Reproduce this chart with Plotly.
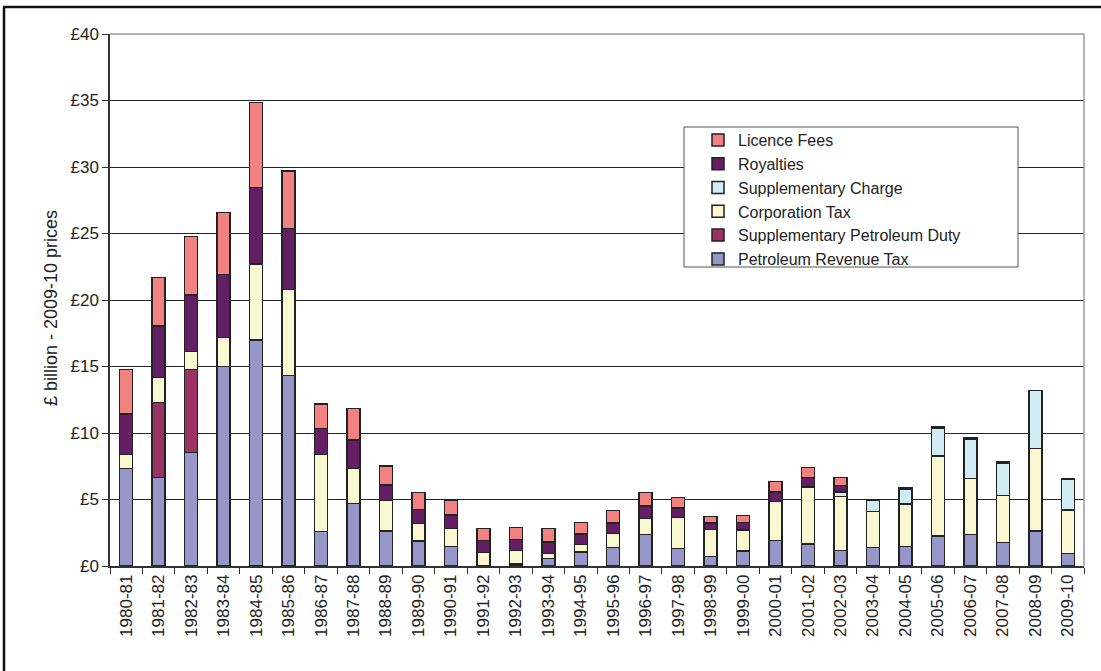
import plotly.graph_objects as go

years = ["1980-81", "1981-82", "1982-83", "1983-84", "1984-85", "1985-86", "1986-87",
         "1987-88", "1988-89", "1989-90", "1990-91", "1991-92", "1992-93", "1993-94",
         "1994-95", "1995-96", "1996-97", "1997-98", "1998-99", "1999-00", "2000-01",
         "2001-02", "2002-03", "2003-04", "2004-05", "2005-06", "2006-07", "2007-08",
         "2008-09", "2009-10"]

petroleum_revenue_tax = [7.34, 6.67, 8.52, 14.99, 16.99, 14.31, 2.58, 4.71, 2.63, 1.88,
                         1.45, 0.02, 0.15, 0.55, 1.05, 1.41, 2.38, 1.30, 0.70, 1.13,
                         1.90, 1.65, 1.15, 1.38, 1.45, 2.26, 2.36, 1.75, 2.63, 0.95]
supplementary_petroleum_duty = [0, 5.61, 6.27, 0, 0, 0, 0, 0, 0, 0,
                                0, 0, 0, 0, 0, 0, 0, 0, 0, 0,
                                0, 0, 0, 0, 0, 0, 0, 0, 0, 0]
corporation_tax = [1.06, 1.91, 1.33, 2.18, 5.72, 6.49, 5.79, 2.63, 2.28, 1.33,
                   1.38, 0.98, 1.00, 0.38, 0.55, 1.05, 1.18, 2.33, 2.03, 1.58,
                   2.94, 4.29, 4.06, 2.70, 3.23, 6.01, 4.23, 3.54, 6.19, 3.26]
supplementary_charge = [0, 0, 0, 0, 0, 0, 0, 0, 0, 0,
                        0, 0, 0, 0, 0, 0, 0, 0, 0, 0,
                        0, 0, 0.35, 0.88, 1.10, 2.08, 2.93, 2.45, 4.36, 2.33]
royalties = [3.03, 3.86, 4.26, 4.76, 5.74, 4.59, 1.98, 2.13, 1.18, 1.05,
             1.00, 0.90, 0.86, 0.87, 0.81, 0.77, 0.95, 0.73, 0.50, 0.55,
             0.72, 0.70, 0.51, 0.02, 0.08, 0.10, 0.10, 0.08, 0, 0]
licence_fees = [3.36, 3.63, 4.38, 4.66, 6.41, 4.31, 1.83, 2.36, 1.43, 1.25,
                1.08, 0.93, 0.90, 1.01, 0.85, 0.93, 1.03, 0.80, 0.50, 0.52,
                0.78, 0.75, 0.57, 0, 0, 0, 0, 0, 0, 0]

series = [
    ("Petroleum Revenue Tax", petroleum_revenue_tax, "#9696C8"),
    ("Supplementary Petroleum Duty", supplementary_petroleum_duty, "#9A3264"),
    ("Corporation Tax", corporation_tax, "#FAF8D0"),
    ("Supplementary Charge", supplementary_charge, "#D2ECF4"),
    ("Royalties", royalties, "#641E64"),
    ("Licence Fees", licence_fees, "#F28282"),
]

fig = go.Figure()
for name, vals, col in series:
    fig.add_trace(go.Bar(
        x=years, y=vals, name=name,
        marker=dict(color=col, line=dict(color="#222222", width=1.5)),
    ))

FONT = "Liberation Sans, Arial, sans-serif"
L, R, T, B = 110, 17, 34, 105
W, H = 1101, 671
pw, ph = W - L - R, H - T - B


def px(x):
    return (x - L) / pw


def py(y):
    return (H - B - y) / ph


shapes = [
    # plot-area border (top and right), grey
    dict(type="line", xref="paper", yref="paper", x0=0, x1=1, y0=1, y1=1,
         line=dict(color="#9a9a9a", width=1.5), layer="above"),
    dict(type="line", xref="paper", yref="paper", x0=1, x1=1, y0=0, y1=1,
         line=dict(color="#9a9a9a", width=1.5), layer="above"),
    # legend box
    dict(type="rect", xref="paper", yref="paper", x0=px(684), x1=px(1018),
         y0=py(267), y1=py(127), fillcolor="white",
         line=dict(color="#555555", width=1), layer="above"),
    # outer frame
    dict(type="line", xref="paper", yref="paper", x0=px(4), x1=px(4),
         y0=py(671), y1=py(7), line=dict(color="#111111", width=2.5), layer="above"),
    dict(type="line", xref="paper", yref="paper", x0=px(3), x1=px(1101),
         y0=py(7), y1=py(7), line=dict(color="#111111", width=2.5), layer="above"),
]

fig.update_layout(
    width=W, height=H,
    margin=dict(l=L, r=R, t=T, b=B),
    barmode="stack",
    bargap=0.6,
    plot_bgcolor="white",
    paper_bgcolor="white",
    font=dict(family=FONT, size=17, color="#222222"),
    showlegend=True,
    legend=dict(
        traceorder="reversed",
        x=px(698), y=py(123), xanchor="left", yanchor="top",
        bgcolor="rgba(0,0,0,0)", borderwidth=0,
        font=dict(family=FONT, size=16, color="#222222"),
        tracegroupgap=0,
    ),
    shapes=shapes,
    annotations=[
        dict(text="£ billion - 2009-10 prices", xref="paper", yref="paper",
             x=px(51), y=py(308), textangle=-90, showarrow=False,
             font=dict(family=FONT, size=18, color="#222222"),
             xanchor="center", yanchor="middle"),
    ],
)

fig.update_xaxes(
    type="category",
    tickangle=-90,
    ticks="outside", ticklen=6, tickcolor="#333333",
    tickson="boundaries",
    showline=True, linecolor="#333333", linewidth=1.5,
    showgrid=False,
    tickfont=dict(family=FONT, size=17, color="#222222"),
)

fig.update_yaxes(
    range=[0, 40],
    tickvals=[0, 5, 10, 15, 20, 25, 30, 35, 40],
    ticktext=["£0", "£5", "£10", "£15", "£20", "£25", "£30", "£35", "£40"],
    ticks="outside", ticklen=6, tickcolor="#333333",
    showline=True, linecolor="#333333", linewidth=1.5,
    showgrid=True, gridcolor="#222222", gridwidth=1,
    zeroline=False,
    tickfont=dict(family=FONT, size=17, color="#222222"),
)

fig.write_html("out.html")
